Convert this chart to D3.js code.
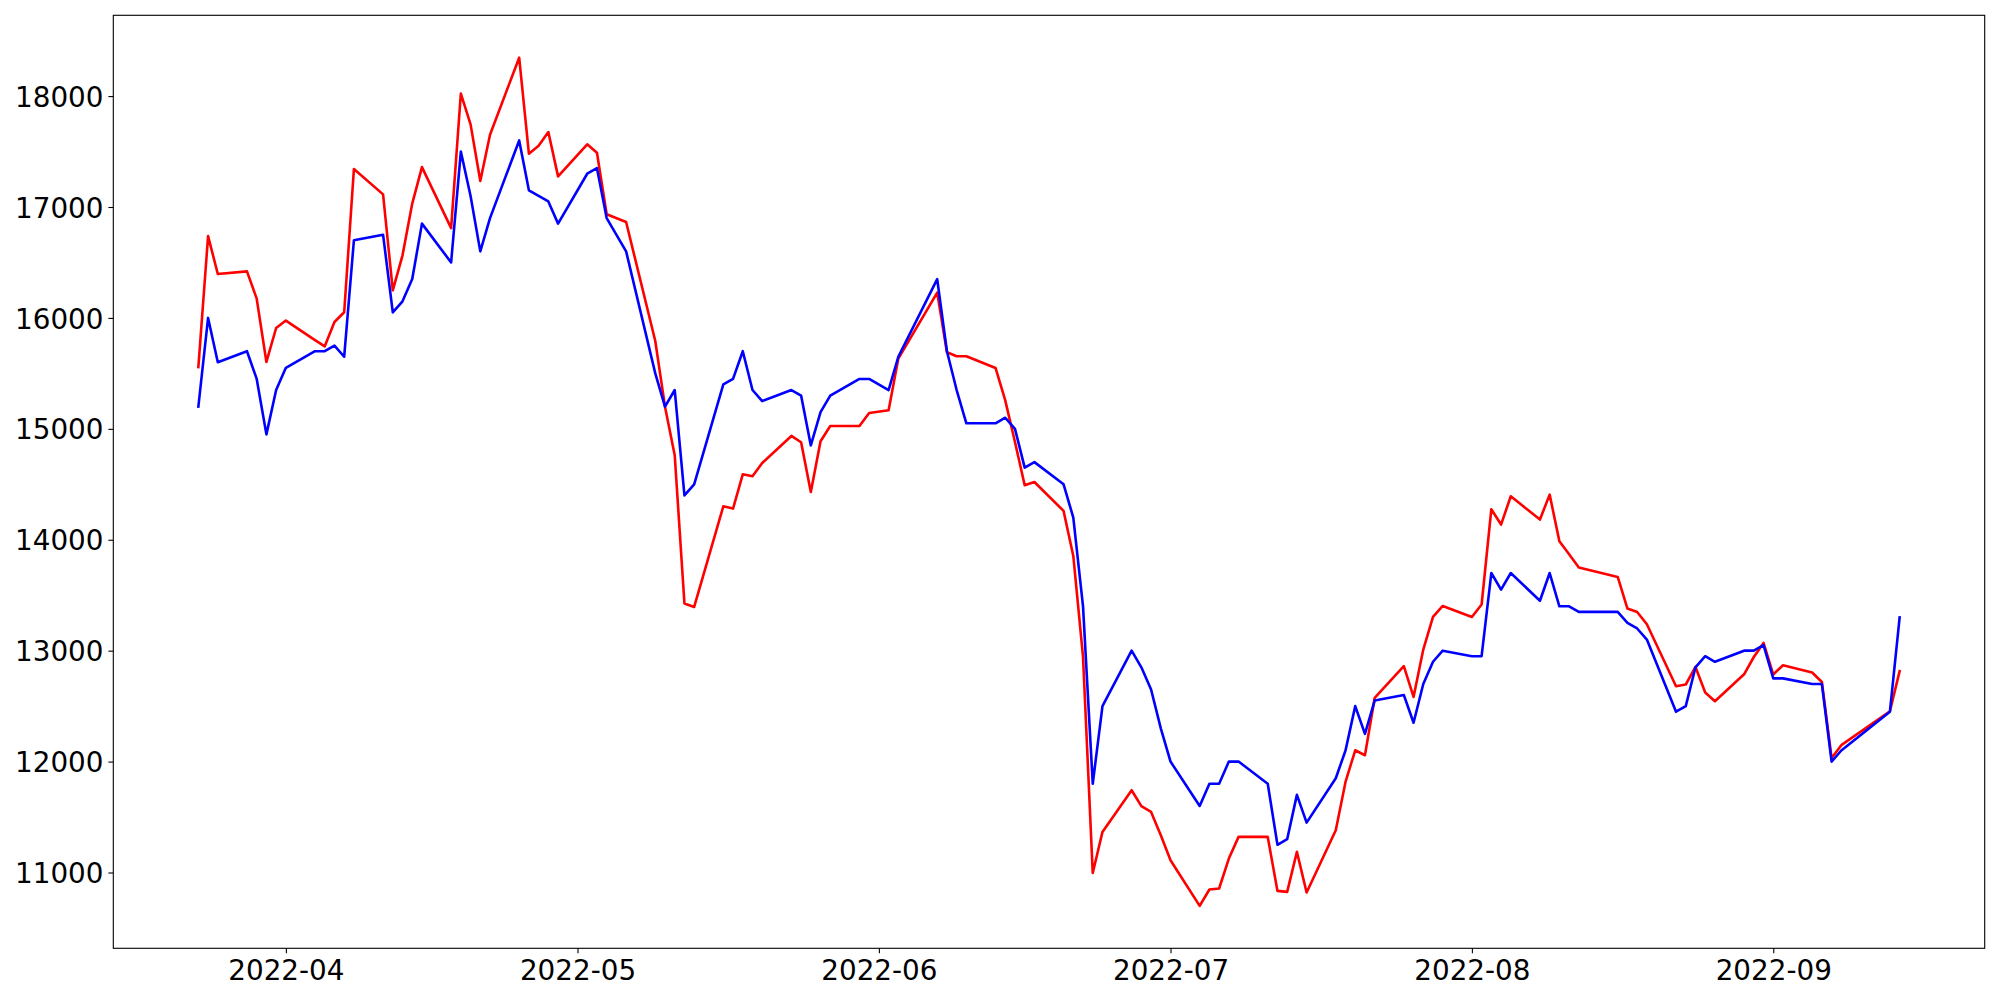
<!DOCTYPE html>
<html>
<head>
<meta charset="utf-8">
<script src="https://cdn.jsdelivr.net/npm/d3@7"></script>
<style>
  html, body { margin: 0; padding: 0; background: #ffffff; }
  svg { display: block; }
  text { font-family: "DejaVu Sans", sans-serif; }
</style>
</head>
<body>
<svg id="chart" width="2000" height="1000"></svg>
<script>
const dates = ["2022-03-23","2022-03-24","2022-03-25","2022-03-28","2022-03-29","2022-03-30","2022-03-31","2022-04-01","2022-04-04","2022-04-05","2022-04-06","2022-04-07","2022-04-08","2022-04-11","2022-04-12","2022-04-13","2022-04-14","2022-04-15","2022-04-18","2022-04-19","2022-04-20","2022-04-21","2022-04-22","2022-04-25","2022-04-26","2022-04-27","2022-04-28","2022-04-29","2022-05-02","2022-05-03","2022-05-04","2022-05-06","2022-05-09","2022-05-10","2022-05-11","2022-05-12","2022-05-13","2022-05-16","2022-05-17","2022-05-18","2022-05-19","2022-05-20","2022-05-23","2022-05-24","2022-05-25","2022-05-26","2022-05-27","2022-05-30","2022-05-31","2022-06-02","2022-06-03","2022-06-07","2022-06-08","2022-06-09","2022-06-10","2022-06-13","2022-06-14","2022-06-15","2022-06-16","2022-06-17","2022-06-20","2022-06-21","2022-06-22","2022-06-23","2022-06-24","2022-06-27","2022-06-28","2022-06-29","2022-06-30","2022-07-01","2022-07-04","2022-07-05","2022-07-06","2022-07-07","2022-07-08","2022-07-11","2022-07-12","2022-07-13","2022-07-14","2022-07-15","2022-07-18","2022-07-19","2022-07-20","2022-07-21","2022-07-22","2022-07-25","2022-07-26","2022-07-27","2022-07-28","2022-07-29","2022-08-01","2022-08-02","2022-08-03","2022-08-04","2022-08-05","2022-08-08","2022-08-09","2022-08-10","2022-08-11","2022-08-12","2022-08-16","2022-08-17","2022-08-18","2022-08-19","2022-08-22","2022-08-23","2022-08-24","2022-08-25","2022-08-26","2022-08-29","2022-08-30","2022-08-31","2022-09-01","2022-09-02","2022-09-05","2022-09-06","2022-09-07","2022-09-08","2022-09-13","2022-09-14"];

const redValues = [15557,16738,16396,16420,16174,15603,15909,15976,15800,15744,15963,16051,17342,17114,16249,16564,17031,17360,16810,18022,17745,17234,17652,18346,17481,17553,17676,17276,17565,17490,16934,16865,15792,15200,14762,13425,13394,14302,14281,14590,14572,14692,14936,14879,14431,14888,15026,15026,15143,15167,15633,16228,15690,15654,15654,15549,15257,14881,14491,14521,14260,13854,12943,10996,11366,11742,11598,11546,11336,11111,10699,10847,10856,11126,11321,11321,10834,10825,11186,10820,11381,11817,12102,12057,12574,12860,12583,13010,13304,13403,13304,13416,14275,14137,14392,14182,14407,13986,13869,13749,13665,13380,13349,13238,12679,12695,12853,12623,12544,12787,12943,13070,12785,12869,12803,12718,12033,12148,12454,12815];

const blueValues = [15200,16000,15600,15700,15450,14950,15350,15550,15700,15700,15750,15650,16700,16750,16050,16150,16350,16850,16500,17500,17100,16600,16900,17600,17150,17100,17050,16850,17300,17350,16900,16600,15500,15200,15350,14400,14500,15400,15450,15700,15350,15250,15350,15300,14850,15150,15300,15450,15450,15350,15650,16350,15700,15350,15050,15050,15100,15000,14650,14700,14500,14200,13400,11800,12500,13000,12850,12650,12300,12000,11600,11800,11800,12000,12000,11800,11250,11300,11700,11450,11850,12100,12500,12250,12550,12600,12350,12700,12900,13000,12950,12950,13700,13550,13700,13450,13700,13400,13400,13350,13350,13250,13200,13100,12450,12500,12850,12950,12900,13000,13000,13050,12750,12750,12700,12700,12000,12100,12450,13300];

const yTickValues = [11000,12000,13000,14000,15000,16000,17000,18000];
const xTickLabels = ["2022-04","2022-05","2022-06","2022-07","2022-08","2022-09"];

const seriesColors = ["#ff0000", "#0000ff"];

const svg = d3.select("#chart");
const W = 2000, H = 1000;
const plot = { left: 113.3, right: 1984.7, top: 15.3, bottom: 948.3 };

svg.append("rect").attr("x",0).attr("y",0).attr("width",W).attr("height",H).attr("fill","#ffffff");

const parse = d3.timeParse("%Y-%m-%d");
const parseMonth = d3.timeParse("%Y-%m");
const fmtMonth = d3.timeFormat("%Y-%m");
const xs = dates.map(parse);

// matplotlib-like 5% margins
const t0 = +xs[0], t1 = +xs[xs.length-1];
const tpad = (t1 - t0) * 0.05;
const allVals = redValues.concat(blueValues);
const vmin = d3.min(allVals), vmax = d3.max(allVals);
const vpad = (vmax - vmin) * 0.05;

const x = d3.scaleTime().domain([new Date(t0 - tpad), new Date(t1 + tpad)]).range([plot.left, plot.right]);
const y = d3.scaleLinear().domain([vmin - vpad, vmax + vpad]).range([plot.bottom, plot.top]);

const clipId = "plotclip";
svg.append("clipPath").attr("id", clipId).append("rect")
  .attr("x", plot.left).attr("y", plot.top)
  .attr("width", plot.right - plot.left).attr("height", plot.bottom - plot.top);

const line = d3.line().x((d,i) => x(xs[i])).y(d => y(d));

const gLines = svg.append("g").attr("clip-path", `url(#${clipId})`);
[redValues, blueValues].forEach((vals, k) => {
  gLines.append("path")
    .attr("d", line(vals))
    .attr("fill", "none")
    .attr("stroke", seriesColors[k])
    .attr("stroke-width", 2.6)
    .attr("stroke-linejoin", "round")
    .attr("stroke-linecap", "square");
});

// axes
const xAxis = d3.axisBottom(x)
  .tickValues(xTickLabels.map(parseMonth))
  .tickFormat(fmtMonth)
  .tickSizeInner(4.9).tickSizeOuter(0).tickPadding(4.9);
const yAxis = d3.axisLeft(y)
  .tickValues(yTickValues)
  .tickFormat(d3.format("d"))
  .tickSizeInner(4.9).tickSizeOuter(0).tickPadding(4.9);

const gx = svg.append("g").attr("transform", `translate(0,${plot.bottom})`).call(xAxis);
const gy = svg.append("g").attr("transform", `translate(${plot.left},0)`).call(yAxis);

[gx, gy].forEach(g => {
  g.select(".domain").remove();
  g.selectAll(".tick line").attr("stroke", "#000").attr("stroke-width", 1.1);
  g.selectAll(".tick text").attr("fill", "#000").attr("font-size", 27.8)
    .attr("font-family", '"DejaVu Sans", sans-serif');
});
gx.selectAll(".tick text").attr("dy", null).attr("y", 31.7);
gy.selectAll(".tick text").attr("dy", null).attr("y", 10.1).attr("x", -9.8);

// spines
svg.append("rect")
  .attr("x", plot.left).attr("y", plot.top)
  .attr("width", plot.right - plot.left).attr("height", plot.bottom - plot.top)
  .attr("fill", "none").attr("stroke", "#000").attr("stroke-width", 1.1);
</script>
</body>
</html>
